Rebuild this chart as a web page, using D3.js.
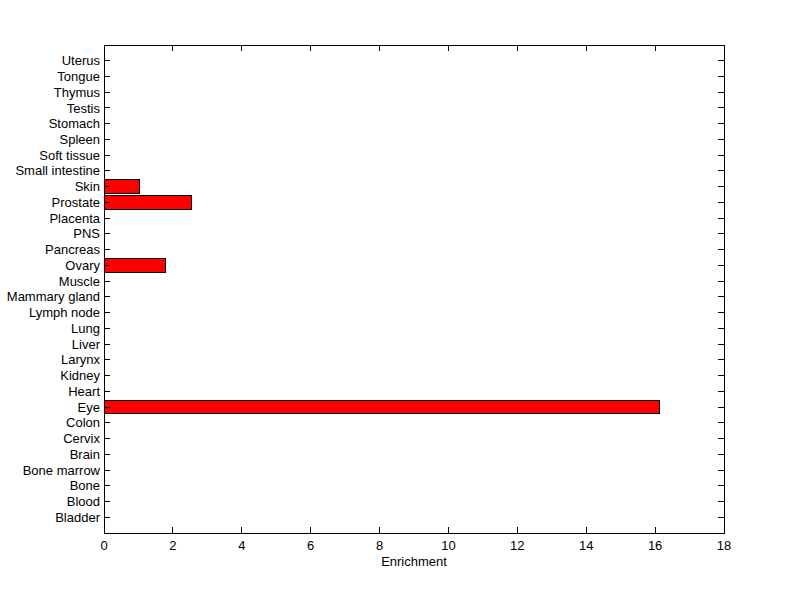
<!DOCTYPE html>
<html><head><meta charset="utf-8">
<script src="https://cdn.jsdelivr.net/npm/d3@7"></script>
<style>body{margin:0;background:#fff}svg{display:block}text{font-family:"Liberation Sans",Arial,sans-serif;font-size:13px;fill:#000}</style>
</head><body>
<script>
const categories = ["Bladder","Blood","Bone","Bone marrow","Brain","Cervix","Colon","Eye","Heart","Kidney","Larynx","Liver","Lung","Lymph node","Mammary gland","Muscle","Ovary","Pancreas","PNS","Placenta","Prostate","Skin","Small intestine","Soft tissue","Spleen","Stomach","Testis","Thymus","Tongue","Uterus"];
const enrichment = [0,0,0,0,0,0,0,16.13,0,0,0,0,0,0,0,0,1.79,0,0,0,2.54,1.02,0,0,0,0,0,0,0,0];
const xTicks = [0,2,4,6,8,10,12,14,16,18];
const xLabel = "Enrichment";

const W=800,H=599, L=104, R=724, T=45, B=533;
const svg=d3.select("body").append("svg").attr("width",W).attr("height",H);
const x=d3.scaleLinear().domain([0,18]).range([L,R]);
const y=d3.scaleLinear().domain([0,categories.length+1]).range([B,T]);
const bh=(y(0)-y(1))*0.85;

svg.append("g").selectAll("rect").data(categories).join("rect")
  .attr("x",x(0)).attr("y",(d,i)=>y(i+1)-bh/2)
  .attr("width",(d,i)=>x(enrichment[i])-x(0)).attr("height",bh)
  .attr("fill","#ff0000").attr("stroke","#000").attr("stroke-width",1)
  .attr("shape-rendering","crispEdges");

const tl=6;
const g=svg.append("g").attr("shape-rendering","crispEdges").attr("stroke","#000");
// frame
g.append("rect").attr("x",L).attr("y",T).attr("width",R-L).attr("height",B-T).attr("fill","none");
// x ticks
xTicks.forEach(v=>{
  g.append("line").attr("x1",x(v)).attr("x2",x(v)).attr("y1",B).attr("y2",B-tl);
  g.append("line").attr("x1",x(v)).attr("x2",x(v)).attr("y1",T).attr("y2",T+tl);
});
categories.forEach((c,i)=>{
  g.append("line").attr("x1",L).attr("x2",L+tl).attr("y1",y(i+1)).attr("y2",y(i+1));
  g.append("line").attr("x1",R).attr("x2",R-tl).attr("y1",y(i+1)).attr("y2",y(i+1));
});
svg.append("g").selectAll("text").data(xTicks).join("text")
  .attr("x",d=>x(d)).attr("y",B+17).attr("text-anchor","middle").text(d=>d);
svg.append("g").selectAll("text").data(categories).join("text")
  .attr("x",L-4).attr("y",(d,i)=>y(i+1)).attr("dy","0.35em").attr("text-anchor","end").text(d=>d);
svg.append("text").attr("x",(L+R)/2).attr("y",B+33).attr("text-anchor","middle").text(xLabel);
</script>
</body></html>
